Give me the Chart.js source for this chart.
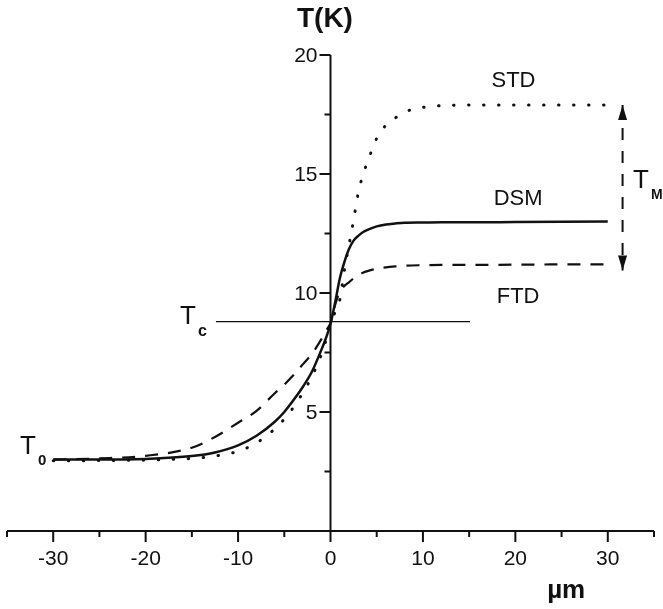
<!DOCTYPE html>
<html>
<head>
<meta charset="utf-8">
<script src="https://cdn.jsdelivr.net/npm/chart.js@4.4.1/dist/chart.umd.min.js"></script>
<style>
  html, body { margin: 0; padding: 0; background: #fff; }
  #wrap { width: 663px; height: 609px; }
</style>
</head>
<body>
<div id="wrap"><canvas id="c" width="663" height="609"></canvas></div>
<script>
/* ===== data ===== */
const xPos = [-30, -25, -20, -15, -12.5, -10, -8, -6, -5, -4, -3, -2, -1, -0.5, 0,
  0.5, 1, 1.5, 2, 2.5, 3, 3.5, 4, 5, 6, 7, 8, 10, 12, 15, 20, 25, 30];

const dsmT = [3.0, 3.0, 3.03, 3.15, 3.3, 3.6, 4.0, 4.6, 5.0, 5.5, 6.05, 6.7, 7.6, 8.1, 8.7,
  9.6, 10.6, 11.3, 11.85, 12.2, 12.4, 12.55, 12.65, 12.8, 12.88, 12.92, 12.95, 12.96, 12.97, 12.97, 12.98, 12.99, 13.0];

const stdT = [2.95, 2.96, 2.98, 3.05, 3.15, 3.35, 3.7, 4.3, 4.7, 5.2, 5.8, 6.5, 7.4, 8.0, 8.7,
  9.2, 9.7, 10.95, 12.0, 13.07, 14.2, 14.95, 15.5, 16.5, 17.05, 17.35, 17.6, 17.8, 17.87, 17.9, 17.9, 17.9, 17.9];

const ftdT = [3.0, 3.05, 3.16, 3.5, 3.95, 4.55, 5.05, 5.8, 6.15, 6.55, 7.0, 7.45, 8.05, 8.4, 8.75,
  9.5, 10.05, 10.3, 10.45, 10.62, 10.75, 10.85, 10.92, 11.02, 11.08, 11.12, 11.15, 11.17, 11.18, 11.18, 11.19, 11.2, 11.2];

const tcLine = [[-12.4, 8.8], [15.1, 8.8]];
const tmArrow = [[31.6, 17.9], [31.6, 10.95]];

const xMajor = [-30, -20, -10, 0, 10, 20, 30];
const xMinor = [-35, -25, -15, -5, 5, 15, 25, 35];
const yMajor = [5, 10, 15, 20];
const yMinor = [2.5, 7.5, 12.5, 17.5];

const curveLabels = [
  { text: "STD", x: 19.8, y: 18.65 },
  { text: "DSM", x: 20.3, y: 13.7 },
  { text: "FTD", x: 20.3, y: 9.6 },
];

const FONT = '"Liberation Sans", Arial, Helvetica, sans-serif';

function pts(xs, ys) {
  return xs.map((x, i) => ({ x, y: ys[i] }));
}
function pairs(arr) {
  return arr.map(([x, y]) => ({ x, y }));
}

/* ===== axes + annotations drawn from the scales ===== */
const crossAxes = {
  id: "crossAxes",
  beforeDatasetsDraw(chart) {
    const { ctx, scales: { x, y } } = chart;
    const x0 = x.getPixelForValue(0);
    const y0 = y.getPixelForValue(0);
    ctx.save();
    ctx.strokeStyle = "#111";
    ctx.fillStyle = "#111";
    ctx.lineWidth = 2;
    ctx.lineCap = "butt";

    // x axis
    ctx.beginPath();
    ctx.moveTo(x.getPixelForValue(-35), y0);
    ctx.lineTo(x.getPixelForValue(35), y0);
    // y axis
    ctx.moveTo(x0, y.getPixelForValue(20));
    ctx.lineTo(x0, y0);
    xMajor.forEach(v => {
      const px = x.getPixelForValue(v);
      ctx.moveTo(px, y0); ctx.lineTo(px, y0 + 11);
    });
    xMinor.forEach(v => {
      const px = x.getPixelForValue(v);
      ctx.moveTo(px, y0); ctx.lineTo(px, y0 + 6);
    });
    yMajor.forEach(v => {
      const py = y.getPixelForValue(v);
      ctx.moveTo(x0, py); ctx.lineTo(x0 - 11, py);
    });
    yMinor.forEach(v => {
      const py = y.getPixelForValue(v);
      ctx.moveTo(x0, py); ctx.lineTo(x0 - 6, py);
    });
    ctx.stroke();

    ctx.font = "21px " + FONT;
    ctx.textAlign = "center";
    ctx.textBaseline = "top";
    xMajor.forEach(v => ctx.fillText(String(v), x.getPixelForValue(v), y0 + 18));
    ctx.textAlign = "right";
    ctx.textBaseline = "middle";
    yMajor.forEach(v => ctx.fillText(String(v), x0 - 13, y.getPixelForValue(v) + 1));
    ctx.restore();
  },
  afterDatasetsDraw(chart) {
    const { ctx, scales: { x, y } } = chart;
    ctx.save();
    ctx.fillStyle = "#111";

    // arrowheads on the T_M span
    const ax = x.getPixelForValue(tmArrow[0][0]);
    const top = y.getPixelForValue(tmArrow[0][1]);
    const bot = y.getPixelForValue(tmArrow[1][1]);
    ctx.beginPath();
    ctx.moveTo(ax, top); ctx.lineTo(ax - 4.5, top + 15); ctx.lineTo(ax + 4.5, top + 15); ctx.closePath();
    ctx.moveTo(ax, bot); ctx.lineTo(ax - 4.5, bot - 15); ctx.lineTo(ax + 4.5, bot - 15); ctx.closePath();
    ctx.fill();

    // axis titles
    ctx.font = "bold 28px " + FONT;
    ctx.textAlign = "center";
    ctx.textBaseline = "alphabetic";
    ctx.fillText("T(K)", x.getPixelForValue(-0.6), 27);
    ctx.font = "bold 26px " + FONT;
    ctx.fillText("µm", x.getPixelForValue(25.5), 598);

    // curve names
    ctx.font = "22px " + FONT;
    curveLabels.forEach(l => ctx.fillText(l.text, x.getPixelForValue(l.x), y.getPixelForValue(l.y)));

    // symbols with subscripts
    const sym = (main, sub, px, py, subSize, subDy) => {
      ctx.textAlign = "left";
      ctx.font = "26px " + FONT;
      ctx.fillText(main, px, py);
      const w = ctx.measureText(main).width;
      ctx.font = "bold " + subSize + "px " + FONT;
      ctx.fillText(sub, px + w + 2, py + subDy);
    };
    sym("T", "c", 180, 324, 16, 12);
    sym("T", "0", 20, 454, 15, 11);
    sym("T", "M", 633, 188, 14, 11);
    ctx.restore();
  },
};

new Chart(document.getElementById("c"), {
  type: "line",
  data: {
    datasets: [
      {
        label: "STD",
        data: pts(xPos, stdT),
        borderColor: "#111",
        borderWidth: 3,
        borderDash: [0.5, 14.5],
        borderCapStyle: "round",
        cubicInterpolationMode: "monotone",
        pointRadius: 0,
      },
      {
        label: "DSM",
        data: pts(xPos, dsmT),
        borderColor: "#111",
        borderWidth: 2.5,
        cubicInterpolationMode: "monotone",
        pointRadius: 0,
      },
      {
        label: "FTD",
        data: pts(xPos, ftdT),
        borderColor: "#111",
        borderWidth: 2.2,
        borderDash: [13, 10],
        cubicInterpolationMode: "monotone",
        pointRadius: 0,
      },
      {
        label: "Tc",
        data: pairs(tcLine),
        borderColor: "#111",
        borderWidth: 1.2,
        pointRadius: 0,
      },
      {
        label: "TM",
        data: pairs(tmArrow),
        borderColor: "#111",
        borderWidth: 2,
        borderDash: [12, 11],
        pointRadius: 0,
      },
    ],
  },
  options: {
    responsive: false,
    animation: false,
    layout: { padding: { left: 7, right: 9, top: 55, bottom: 78 } },
    plugins: { legend: { display: false }, tooltip: { enabled: false } },
    scales: {
      x: { type: "linear", min: -35, max: 35, display: false },
      y: { type: "linear", min: 0, max: 20, display: false },
    },
  },
  plugins: [crossAxes],
});
</script>
</body>
</html>
